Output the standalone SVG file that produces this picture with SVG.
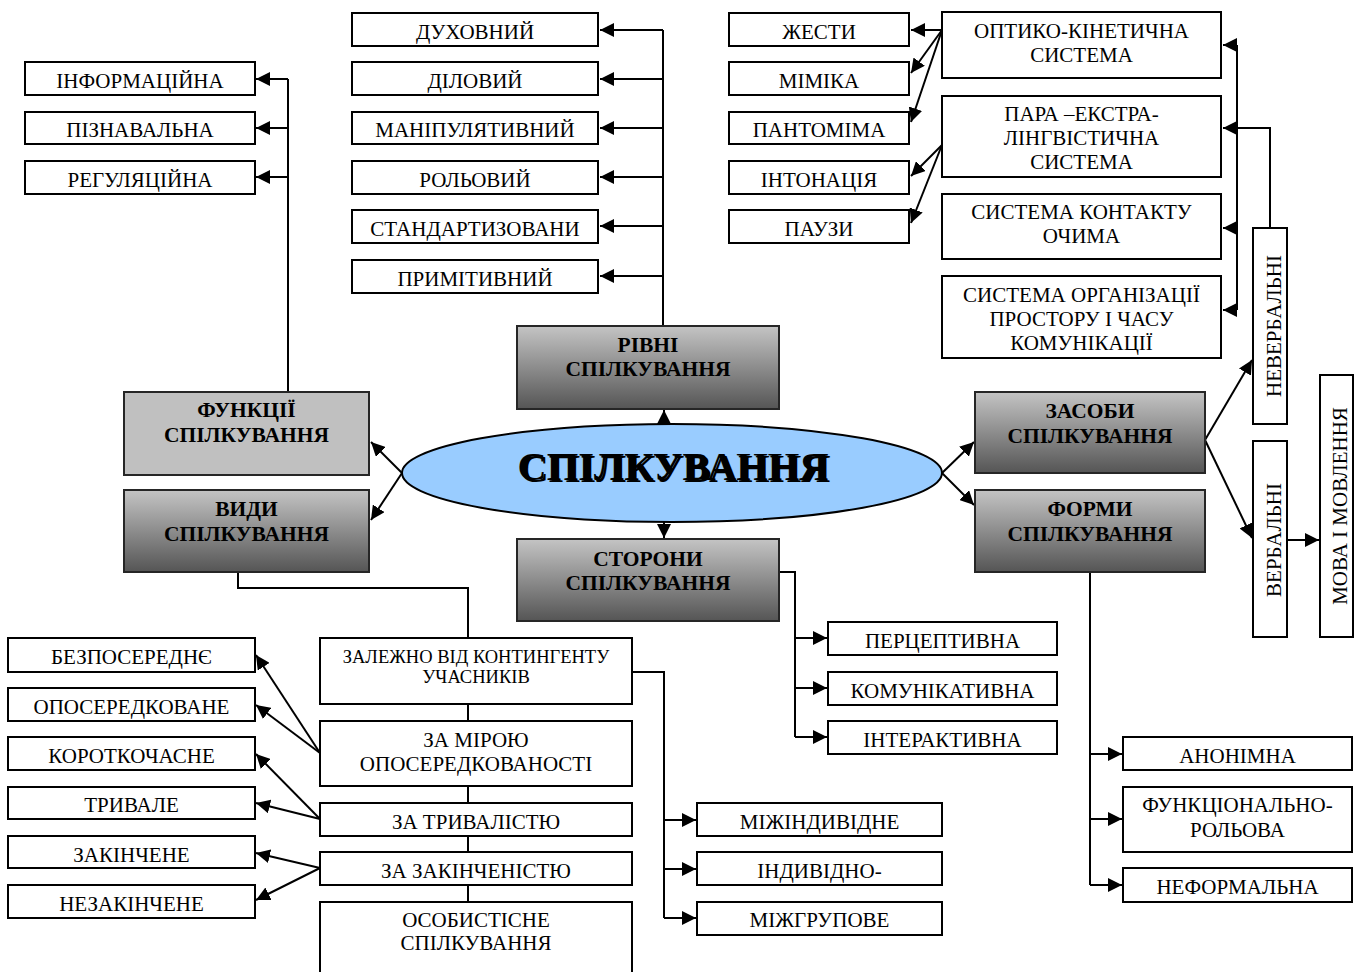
<svg xmlns="http://www.w3.org/2000/svg" width="1358" height="972" viewBox="0 0 1358 972" font-family="'Liberation Serif', 'Times New Roman', Tinos, 'DejaVu Serif', serif">
<style>
.b{fill:#fff;stroke:#000;stroke-width:2}
.g{fill:url(#grad);stroke:#262626;stroke-width:2}
.gf{fill:#c0c0c0;stroke:#262626;stroke-width:2}
text{font-family:'Liberation Serif','Times New Roman',Tinos,'DejaVu Serif',serif;fill:#000}
.t{font-size:21px;text-anchor:middle}
.s{font-size:18.5px;text-anchor:middle}
.h{font-size:21.5px;font-weight:bold;text-anchor:middle}
.c{fill:none;stroke:#000;stroke-width:2}
.a{fill:none;stroke:#000;stroke-width:2;marker-end:url(#arr)}
</style>
<defs>
<linearGradient id="grad" x1="0" y1="0" x2="0" y2="1">
<stop offset="0" stop-color="#c4c4c4"/>
<stop offset="1" stop-color="#555555"/>
</linearGradient>
<marker id="arr" markerUnits="userSpaceOnUse" markerWidth="15" markerHeight="14" refX="14" refY="7" orient="auto">
<path d="M0,0 L14,7 L0,14 z" fill="#000"/>
</marker>
</defs>
<g id="connectors">
<path class="c" d="M288,391 V79"/>
<path class="a" d="M288,79 H256"/>
<path class="a" d="M288,128 H256"/>
<path class="a" d="M288,177 H256"/>
<path class="c" d="M663,326 V30"/>
<path class="a" d="M663,30 H600"/>
<path class="a" d="M663,79 H600"/>
<path class="a" d="M663,128 H600"/>
<path class="a" d="M663,177 H600"/>
<path class="a" d="M663,226 H600"/>
<path class="a" d="M663,276 H600"/>
<path class="a" d="M942,30 H911"/>
<path class="a" d="M942,30 L911,73"/>
<path class="a" d="M942,30 L911,122"/>
<path class="a" d="M942,145 L911,176"/>
<path class="a" d="M942,145 L911,223"/>
<path class="c" d="M1237,45 V310"/>
<path class="a" d="M1237,45 H1223"/>
<path class="a" d="M1270,228 V128 H1223"/>
<path class="a" d="M1237,228 H1223"/>
<path class="a" d="M1237,310 H1223"/>
<path class="a" d="M664,425 V410"/>
<path class="a" d="M664,521 V538"/>
<path class="a" d="M402,473 L371,442"/>
<path class="a" d="M402,473 L371,520"/>
<path class="a" d="M942,473 L974,442"/>
<path class="a" d="M942,473 L974,505"/>
<path class="a" d="M1205,440 L1252,360"/>
<path class="a" d="M1205,440 L1252,538"/>
<path class="a" d="M1287,540 H1319"/>
<path class="c" d="M779,572 H795 V737"/>
<path class="a" d="M795,638 H827"/>
<path class="a" d="M795,688 H827"/>
<path class="a" d="M795,737 H827"/>
<path class="c" d="M238,573 V588 H468 V902"/>
<path class="c" d="M632,672 H664 V918"/>
<path class="a" d="M664,820 H696"/>
<path class="a" d="M664,869 H696"/>
<path class="a" d="M664,918 H696"/>
<path class="a" d="M320,753 L256,655"/>
<path class="a" d="M320,753 L256,705"/>
<path class="a" d="M320,819 L256,754"/>
<path class="a" d="M320,819 L256,803"/>
<path class="a" d="M320,868 L256,853"/>
<path class="a" d="M320,868 L256,900"/>
<path class="c" d="M1090,572 V885"/>
<path class="a" d="M1090,754 H1122"/>
<path class="a" d="M1090,819 H1122"/>
<path class="a" d="M1090,885 H1122"/>
</g>
<g id="n-info"><rect class="b" x="25" y="62" width="230" height="33"/><text class="t" x="140" y="88">ІНФОРМАЦІЙНА</text></g>
<g id="n-piz"><rect class="b" x="25" y="112" width="230" height="32"/><text class="t" x="140" y="137">ПІЗНАВАЛЬНА</text></g>
<g id="n-reg"><rect class="b" x="25" y="161" width="230" height="33"/><text class="t" x="140" y="187">РЕГУЛЯЦІЙНА</text></g>
<g id="n-duh"><rect class="b" x="352" y="13" width="246" height="33"/><text class="t" x="475" y="39">ДУХОВНИЙ</text></g>
<g id="n-dil"><rect class="b" x="352" y="62" width="246" height="33"/><text class="t" x="475" y="88">ДІЛОВИЙ</text></g>
<g id="n-man"><rect class="b" x="352" y="112" width="246" height="32"/><text class="t" x="475" y="137">МАНІПУЛЯТИВНИЙ</text></g>
<g id="n-rol"><rect class="b" x="352" y="161" width="246" height="33"/><text class="t" x="475" y="187">РОЛЬОВИЙ</text></g>
<g id="n-std"><rect class="b" x="352" y="210" width="246" height="33"/><text class="t" x="475" y="236">СТАНДАРТИЗОВАНИ</text></g>
<g id="n-prim"><rect class="b" x="352" y="260" width="246" height="33"/><text class="t" x="475" y="286">ПРИМІТИВНИЙ</text></g>
<g id="n-zhest"><rect class="b" x="729" y="13" width="180" height="33"/><text class="t" x="819" y="39">ЖЕСТИ</text></g>
<g id="n-mim"><rect class="b" x="729" y="62" width="180" height="33"/><text class="t" x="819" y="88">МІМІКА</text></g>
<g id="n-pant"><rect class="b" x="729" y="112" width="180" height="32"/><text class="t" x="819" y="137">ПАНТОМІМА</text></g>
<g id="n-inton"><rect class="b" x="729" y="161" width="180" height="33"/><text class="t" x="819" y="187">ІНТОНАЦІЯ</text></g>
<g id="n-pauz"><rect class="b" x="729" y="210" width="180" height="33"/><text class="t" x="819" y="236">ПАУЗИ</text></g>
<g id="n-opt"><rect class="b" x="942" y="12" width="279" height="66"/><text class="t" x="1081.5" y="38">ОПТИКО-КІНЕТИЧНА</text><text class="t" x="1081.5" y="62">СИСТЕМА</text></g>
<g id="n-para"><rect class="b" x="942" y="96" width="279" height="81"/><text class="t" x="1081.5" y="121">ПАРА –ЕКСТРА-</text><text class="t" x="1081.5" y="145">ЛІНГВІСТИЧНА</text><text class="t" x="1081.5" y="169">СИСТЕМА</text></g>
<g id="n-kont"><rect class="b" x="942" y="194" width="279" height="65"/><text class="t" x="1081.5" y="219">СИСТЕМА КОНТАКТУ</text><text class="t" x="1081.5" y="243">ОЧИМА</text></g>
<g id="n-org"><rect class="b" x="942" y="276" width="279" height="82"/><text class="t" x="1081.5" y="302">СИСТЕМА ОРГАНІЗАЦІЇ</text><text class="t" x="1081.5" y="326">ПРОСТОРУ І ЧАСУ</text><text class="t" x="1081.5" y="350">КОМУНІКАЦІЇ</text></g>
<g id="n-neverb"><rect class="b" x="1253" y="228" width="34" height="196"/><text class="t" transform="translate(1281,326) rotate(-90)">НЕВЕРБАЛЬНІ</text></g>
<g id="n-verb"><rect class="b" x="1253" y="441" width="34" height="196"/><text class="t" transform="translate(1281,540) rotate(-90)">ВЕРБАЛЬНІ</text></g>
<g id="n-mova"><rect class="b" x="1320" y="375" width="33" height="262"/><text class="t" transform="translate(1347,506) rotate(-90)">МОВА І МОВЛЕННЯ</text></g>
<g id="n-func"><rect class="gf" x="124" y="392" width="245" height="83"/><text class="h" x="246.5" y="417">ФУНКЦІЇ</text><text class="h" x="246.5" y="442">СПІЛКУВАННЯ</text></g>
<g id="n-vydy"><rect class="g" x="124" y="490" width="245" height="82"/><text class="h" x="246.5" y="516">ВИДИ</text><text class="h" x="246.5" y="541">СПІЛКУВАННЯ</text></g>
<g id="n-rivni"><rect class="g" x="517" y="326" width="262" height="83"/><text class="h" x="648" y="352">РІВНІ</text><text class="h" x="648" y="376">СПІЛКУВАННЯ</text></g>
<g id="n-storony"><rect class="g" x="517" y="539" width="262" height="82"/><text class="h" x="648" y="566">СТОРОНИ</text><text class="h" x="648" y="590">СПІЛКУВАННЯ</text></g>
<g id="n-zasoby"><rect class="g" x="975" y="392" width="230" height="81"/><text class="h" x="1090" y="418">ЗАСОБИ</text><text class="h" x="1090" y="443">СПІЛКУВАННЯ</text></g>
<g id="n-formy"><rect class="g" x="975" y="490" width="230" height="82"/><text class="h" x="1090" y="516">ФОРМИ</text><text class="h" x="1090" y="541">СПІЛКУВАННЯ</text></g>
<g id="n-main"><ellipse cx="672" cy="473" rx="270" ry="49" fill="#99ccff" stroke="#000" stroke-width="2"/><text x="675" y="482" font-size="40.5" font-weight="bold" text-anchor="middle" fill="#999">СПІЛКУВАННЯ</text><text x="673" y="480" font-size="40.5" font-weight="bold" text-anchor="middle">СПІЛКУВАННЯ</text></g>
<g id="n-perc"><rect class="b" x="828" y="622" width="229" height="33"/><text class="t" x="942.5" y="648">ПЕРЦЕПТИВНА</text></g>
<g id="n-kom"><rect class="b" x="828" y="672" width="229" height="33"/><text class="t" x="942.5" y="698">КОМУНІКАТИВНА</text></g>
<g id="n-inter"><rect class="b" x="828" y="721" width="229" height="33"/><text class="t" x="942.5" y="747">ІНТЕРАКТИВНА</text></g>
<g id="n-bezp"><rect class="b" x="8" y="638" width="247" height="34"/><text class="t" x="131.5" y="664">БЕЗПОСЕРЕДНЄ</text></g>
<g id="n-oposer"><rect class="b" x="8" y="688" width="247" height="33"/><text class="t" x="131.5" y="714">ОПОСЕРЕДКОВАНЕ</text></g>
<g id="n-korot"><rect class="b" x="8" y="737" width="247" height="33"/><text class="t" x="131.5" y="763">КОРОТКОЧАСНЕ</text></g>
<g id="n-tryv"><rect class="b" x="8" y="787" width="247" height="32"/><text class="t" x="131.5" y="812">ТРИВАЛЕ</text></g>
<g id="n-zak"><rect class="b" x="8" y="836" width="247" height="32"/><text class="t" x="131.5" y="862">ЗАКІНЧЕНЕ</text></g>
<g id="n-nezak"><rect class="b" x="8" y="885" width="247" height="33"/><text class="t" x="131.5" y="911">НЕЗАКІНЧЕНЕ</text></g>
<g id="n-zalezh"><rect class="b" x="320" y="638" width="312" height="66"/><text class="s" x="476" y="663">ЗАЛЕЖНО ВІД КОНТИНГЕНТУ</text><text class="s" x="476" y="683">УЧАСНИКІВ</text></g>
<g id="n-miroyu"><rect class="b" x="320" y="721" width="312" height="65"/><text class="t" x="476" y="747">ЗА МІРОЮ</text><text class="t" x="476" y="771">ОПОСЕРЕДКОВАНОСТІ</text></g>
<g id="n-tryvalist"><rect class="b" x="320" y="803" width="312" height="33"/><text class="t" x="476" y="829">ЗА ТРИВАЛІСТЮ</text></g>
<g id="n-zakinch"><rect class="b" x="320" y="852" width="312" height="33"/><text class="t" x="476" y="878">ЗА ЗАКІНЧЕНІСТЮ</text></g>
<g id="n-osob"><rect class="b" x="320" y="902" width="312" height="90"/><text class="t" x="476" y="927">ОСОБИСТІСНЕ</text><text class="t" x="476" y="950">СПІЛКУВАННЯ</text></g>
<g id="n-mizhind"><rect class="b" x="697" y="803" width="245" height="33"/><text class="t" x="819.5" y="829">МІЖІНДИВІДНЕ</text></g>
<g id="n-indyv"><rect class="b" x="697" y="852" width="245" height="33"/><text class="t" x="819.5" y="878">ІНДИВІДНО-</text></g>
<g id="n-mizhgr"><rect class="b" x="697" y="902" width="245" height="33"/><text class="t" x="819.5" y="927">МІЖГРУПОВЕ</text></g>
<g id="n-anon"><rect class="b" x="1123" y="737" width="229" height="33"/><text class="t" x="1237.5" y="763">АНОНІМНА</text></g>
<g id="n-funkrol"><rect class="b" x="1123" y="787" width="229" height="65"/><text class="t" x="1237.5" y="812">ФУНКЦІОНАЛЬНО-</text><text class="t" x="1237.5" y="837">РОЛЬОВА</text></g>
<g id="n-neform"><rect class="b" x="1123" y="868" width="229" height="34"/><text class="t" x="1237.5" y="894">НЕФОРМАЛЬНА</text></g>
</svg>
